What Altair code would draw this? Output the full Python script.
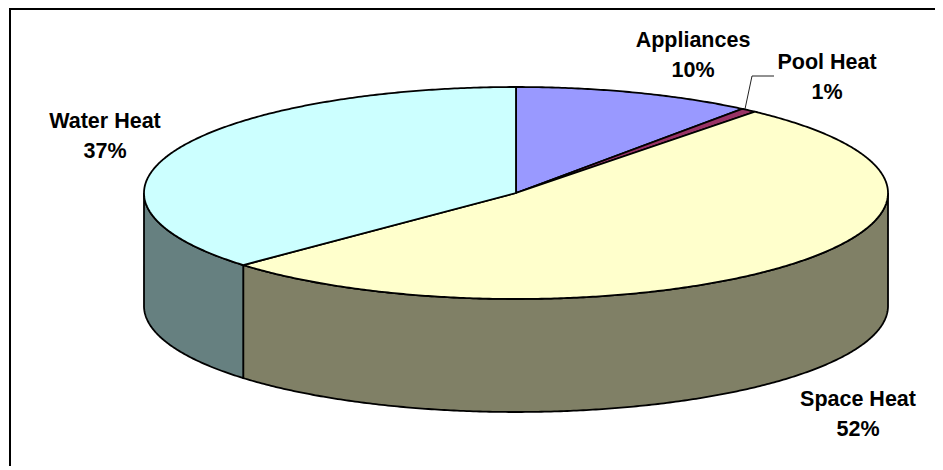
import math
import altair as alt

categories = ["Appliances", "Pool Heat", "Space Heat", "Water Heat"]
shares = [10.4, 0.7, 52.0, 36.9]
top_colors = ["#9999ff", "#993366", "#ffffcc", "#ccffff"]
wall_colors = ["#666699", "#4d1a33", "#808066", "#668080"]

W, H = 927, 458
CX, CY, RX, RY, DEPTH = 508, 185, 372, 106, 113
OFF = 8  # page margin


def pt(t, dy=0):
    a = math.radians(t)
    return [round(CX + RX * math.sin(a), 2), round(CY - RY * math.cos(a) + dy, 2)]


def arc(t0, t1, dy=0):
    n = max(2, int(abs(t1 - t0) * 2))
    return [pt(t0 + (t1 - t0) * i / n, dy) for i in range(n + 1)]


features = []
walls = []
start = 0.0
for name, share in zip(categories, shares):
    end = start + share * 3.6
    ring = [[CX, CY]] + arc(start, end) + [[CX, CY]]
    features.append({"type": "Feature", "properties": {"name": name},
                     "geometry": {"type": "Polygon", "coordinates": [ring]}})
    lo, hi = max(start, 90), min(end, 270)
    if lo < hi:
        ring = arc(lo, hi) + arc(hi, lo, DEPTH)
        ring.append(ring[0])
        walls.append({"type": "Feature", "properties": {"name": name},
                      "geometry": {"type": "Polygon", "coordinates": [ring]}})
    start = end

proj = alt.Projection(type="identity", scale=1, translate=[0, 0]).to_dict()

wall_layer = alt.Chart(alt.Data(values=walls)).mark_geoshape(stroke="black", strokeWidth=1.8).encode(
    color=alt.Color("properties.name:N", scale=alt.Scale(domain=categories, range=wall_colors), legend=None)
).project(**proj)

top_layer = alt.Chart(alt.Data(values=features)).mark_geoshape(stroke="black", strokeWidth=1.8).encode(
    color=alt.Color("properties.name:N", scale=alt.Scale(domain=categories, range=top_colors), legend=None)
).project(**proj)

# leader line for the small slice
leader_feat = [{"type": "Feature", "properties": {},
                "geometry": {"type": "LineString",
                             "coordinates": [[745 - OFF, 109 - OFF], [752 - OFF, 76 - OFF], [774 - OFF, 76 - OFF]]}}]
leader = alt.Chart(alt.Data(values=leader_feat)).mark_geoshape(filled=False, stroke="#222222", strokeWidth=1).project(**proj)

# frame: only its left and top edges fall inside the picture
frame_feat = [{"type": "Feature", "properties": {},
               "geometry": {"type": "LineString",
                            "coordinates": [[2, H + 5], [2, 1], [W + 5, 1]]}}]
frame = alt.Chart(alt.Data(values=frame_feat)).mark_geoshape(filled=False, stroke="black", strokeWidth=2).project(**proj)

# first-line centres of the labels in the page
label_pos = {"Appliances": (693, 41), "Pool Heat": (827, 63), "Water Heat": (105, 122), "Space Heat": (858, 400)}
labels = []
for name, share in zip(categories, shares):
    x, y = label_pos[name]
    labels.append({"text": f"{name}\n{round(share)}%", "lon": x - OFF, "lat": y - OFF})

text = alt.Chart(alt.Data(values=labels)).mark_text(
    font="Liberation Sans", fontWeight="bold", fontSize=21.5, lineBreak="\n", lineHeight=30,
    baseline="middle", align="center", color="black"
).encode(longitude="lon:Q", latitude="lat:Q", text="text:N").project(**proj)

chart = alt.layer(frame, wall_layer, top_layer, leader, text).resolve_scale(color="independent").properties(
    width=W, height=H, padding=0, autosize=alt.AutoSizeParams(type="none")
).configure_view(strokeWidth=0, fill="white").configure(background="white")

chart.save("out.html", embed_options={"renderer": "svg", "actions": False})
